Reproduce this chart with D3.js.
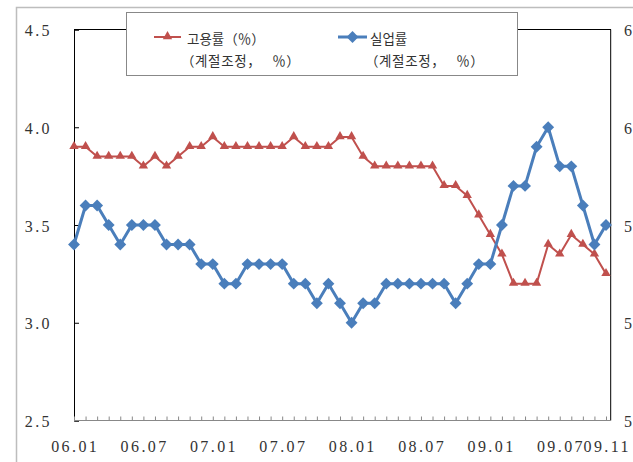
<!DOCTYPE html>
<html>
<head>
<meta charset="utf-8">
<script src="https://cdn.jsdelivr.net/npm/d3@7"></script>
<style>
  html, body { margin: 0; padding: 0; background: #fff; }
  svg { display: block; }
  .num { font-family: "Liberation Serif", "DejaVu Serif", serif; font-size: 16px; fill: #333; letter-spacing: 2.4px; }
  .leg { font-family: "Noto Sans CJK KR", sans-serif; font-size: 13.5px; fill: #333; }
</style>
</head>
<body>
<svg id="chart" width="633" height="462"></svg>
<script>
// Monthly categories, 2006.01 – 2009.11
const months = [
  "06.01","06.02","06.03","06.04","06.05","06.06","06.07","06.08","06.09","06.10","06.11","06.12",
  "07.01","07.02","07.03","07.04","07.05","07.06","07.07","07.08","07.09","07.10","07.11","07.12",
  "08.01","08.02","08.03","08.04","08.05","08.06","08.07","08.08","08.09","08.10","08.11","08.12",
  "09.01","09.02","09.03","09.04","09.05","09.06","09.07","09.08","09.09","09.10","09.11"
];
const labeledMonths = ["06.01","06.07","07.01","07.07","08.01","08.07","09.01","09.07","09.11"];

// 고용률 (계절조정, %) – right axis
const employment = [
  59.8,59.8,59.7,59.7,59.7,59.7,59.6,59.7,59.6,59.7,59.8,59.8,
  59.9,59.8,59.8,59.8,59.8,59.8,59.8,59.9,59.8,59.8,59.8,59.9,
  59.9,59.7,59.6,59.6,59.6,59.6,59.6,59.6,59.4,59.4,59.3,59.1,
  58.9,58.7,58.4,58.4,58.4,58.8,58.7,58.9,58.8,58.7,58.5
];
// 실업률 (계절조정, %) – left axis
const unemployment = [
  3.4,3.6,3.6,3.5,3.4,3.5,3.5,3.5,3.4,3.4,3.4,3.3,
  3.3,3.2,3.2,3.3,3.3,3.3,3.3,3.2,3.2,3.1,3.2,3.1,
  3.0,3.1,3.1,3.2,3.2,3.2,3.2,3.2,3.2,3.1,3.2,3.3,
  3.3,3.5,3.7,3.7,3.9,4.0,3.8,3.8,3.6,3.4,3.5
];
const leftTicks = [2.5, 3.0, 3.5, 4.0, 4.5];
const rightTicks = [57, 58, 59, 60, 61];

const svg = d3.select("#chart");
const plot = { left: 74, right: 611, top: 29.5, bottom: 420.5 };
const redC = "#C0504D", blueC = "#4A7EBB";

const x = d3.scalePoint().domain(months).range([plot.left, 606]);
const yL = d3.scaleLinear().domain([2.5, 4.5]).range([plot.bottom, plot.top]);
const yR = d3.scaleLinear().domain([57, 61]).range([plot.bottom, plot.top]);

// outer chart frame
svg.append("rect").attr("x", 16.5).attr("y", 7.5).attr("width", 640).attr("height", 470)
  .attr("fill", "none").attr("stroke", "#bdbdbd").attr("stroke-width", 1.5);

// plot frame: top and right edges
svg.append("line").attr("x1", plot.left).attr("x2", plot.right).attr("y1", plot.top).attr("y2", plot.top)
  .attr("stroke", "#000").attr("stroke-width", 1);
svg.append("line").attr("x1", plot.right - 0.3).attr("x2", plot.right - 0.3).attr("y1", plot.top).attr("y2", plot.bottom)
  .attr("stroke", "#000").attr("stroke-width", 1);

// left axis
const gL = svg.append("g").attr("transform", `translate(${plot.left},0)`)
  .call(d3.axisLeft(yL).tickValues(leftTicks).tickFormat(d3.format(".1f")).tickSize(-5).tickPadding(22));
gL.select(".domain").attr("stroke", "#000");
gL.selectAll(".tick line").attr("stroke", "#000");
gL.selectAll("text").attr("class", "num").attr("font-family", null).attr("font-size", null).attr("fill", null).attr("dy", "0.38em");

// right axis (labels run past the window edge)
const gR = svg.append("g").attr("transform", `translate(${plot.right},0)`)
  .call(d3.axisRight(yR).tickValues(rightTicks).tickFormat(d3.format(".1f")).tickSize(0).tickPadding(13));
gR.select(".domain").remove();
gR.selectAll("text").attr("class", "num").attr("font-family", null).attr("font-size", null).attr("fill", null).attr("dy", "0.38em");

// bottom axis: inward tick at each month, labels on selected months
const gB = svg.append("g").attr("transform", `translate(0,${plot.bottom})`)
  .call(d3.axisBottom(x).tickSize(-4).tickFormat(""));
gB.select(".domain").attr("stroke", "#888").attr("d", `M${plot.left},0H${plot.right}`);
gB.selectAll(".tick line").attr("stroke", "#888");
svg.append("g").selectAll("text").data(labeledMonths).join("text")
  .attr("class", "num").attr("text-anchor", "middle")
  .attr("x", d => x(d) + 1.2).attr("y", 452).text(d => d);

// employment series (triangles)
const lineR = d3.line().x((d, i) => x(months[i])).y(d => yR(d));
svg.append("path").datum(employment).attr("d", lineR)
  .attr("fill", "none").attr("stroke", redC).attr("stroke-width", 2).attr("stroke-linejoin", "round");
const tri = d3.symbol().type(d3.symbolTriangle).size(38);
svg.append("g").selectAll("path").data(employment).join("path")
  .attr("d", tri).attr("fill", redC)
  .attr("transform", (d, i) => `translate(${x(months[i])},${yR(d) - 0.5})`);

// unemployment series (diamonds)
const lineL = d3.line().x((d, i) => x(months[i])).y(d => yL(d));
svg.append("path").datum(unemployment).attr("d", lineL)
  .attr("fill", "none").attr("stroke", blueC).attr("stroke-width", 3).attr("stroke-linejoin", "round");
svg.append("g").selectAll("rect").data(unemployment).join("rect")
  .attr("x", -4.2).attr("y", -4.2).attr("width", 8.4).attr("height", 8.4).attr("fill", blueC)
  .attr("transform", (d, i) => `translate(${x(months[i])},${yL(d)}) rotate(45)`);

// legend
const leg = svg.append("g");
leg.append("rect").attr("x", 126.5).attr("y", 12.5).attr("width", 391).attr("height", 63)
  .attr("fill", "#fff").attr("stroke", "#888").attr("stroke-width", 1);
leg.append("line").attr("x1", 154).attr("x2", 181).attr("y1", 37).attr("y2", 37)
  .attr("stroke", redC).attr("stroke-width", 2);
leg.append("path").attr("d", tri).attr("fill", redC).attr("transform", "translate(167.5,36.5)");
leg.append("text").attr("class", "leg").attr("x", 187).attr("y", 44).text("고용률（％）");
leg.append("text").attr("class", "leg").attr("x", 181).attr("y", 66)
  .attr("letter-spacing", "0.6px").text("（계절조정，　 ％）");
leg.append("line").attr("x1", 338).attr("x2", 367).attr("y1", 37).attr("y2", 37)
  .attr("stroke", blueC).attr("stroke-width", 3);
leg.append("rect").attr("x", -4.2).attr("y", -4.2).attr("width", 8.4).attr("height", 8.4).attr("fill", blueC)
  .attr("transform", "translate(352.5,37) rotate(45)");
leg.append("text").attr("class", "leg").attr("x", 370).attr("y", 44).text("실업률");
leg.append("text").attr("class", "leg").attr("x", 365).attr("y", 66)
  .attr("letter-spacing", "0.6px").text("（계절조정，　 ％）");
</script>
</body>
</html>
